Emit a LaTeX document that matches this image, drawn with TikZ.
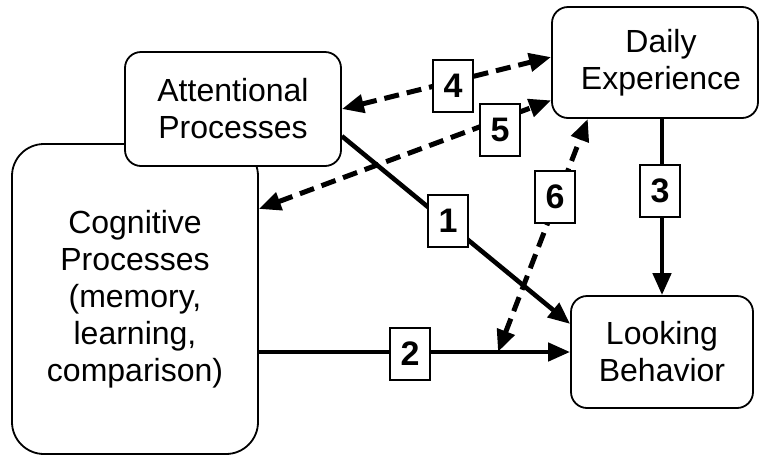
\documentclass[tikz,border=0pt]{standalone}
\usepackage{fontspec}
\setmainfont{Liberation Sans}
\usetikzlibrary{arrows.meta,positioning}

\tikzset{
proc/.style={draw, line width=0.9pt, rounded corners=8pt, fill=white, align=center, inner sep=0pt, font=\fontsize{16}{18.5}\selectfont},
numbox/.style={draw, line width=0.8pt, fill=white, inner sep=0pt, minimum width=20pt, minimum height=26pt, font=\fontsize{17}{18}\selectfont\bfseries},
link/.style={line width=2.3pt, -{Triangle[length=11pt,width=9pt]}},
dlink/.style={line width=2.5pt, dash pattern=on 7.5pt off 4pt, {Triangle[length=11pt,width=9pt]}-{Triangle[length=11pt,width=9pt]}}
}

\begin{document}
\begin{tikzpicture}[x=0.5pt,y=-0.5pt]
\useasboundingbox (0,0) rectangle (760,456);

\node[proc, minimum width=123pt, minimum height=155pt, rounded corners=16pt] (cog) at (135,299) {Cognitive\\Processes\\(memory,\\learning,\\comparison)};
\node[proc, minimum width=108pt, minimum height=57pt] (att) at (233,109) {Attentional\\Processes};
\node[proc, minimum width=103pt, minimum height=55.5pt] (daily) at (655,62.5) {\hspace*{6pt}Daily\\\hspace*{6pt}Experience};
\node[proc, minimum width=91pt, minimum height=56pt] (look) at (662,352) {Looking\\Behavior};

\coordinate (meet) at (498,352);

\draw[link] (att.-14) -- (look.163);
\draw[link] (cog.east |- look.west) -- (look.west);
\draw[link] (look.north |- daily.south) -- (look.north);
\draw[dlink] (att.east) -- (daily.177);
\draw[dlink] (cog.36) -- (daily.200);
\draw[dlink] (meet) -- (daily.220);

\node[numbox] (n1) at (448,221) {1};
\node[numbox] (n2) at (410,354) {2};
\node[numbox] (n3) at (660,191) {3};
\node[numbox] (n4) at (453,86) {4};
\node[numbox] (n5) at (500,130) {5};
\node[numbox] (n6) at (555,197) {6};
\end{tikzpicture}
\end{document}
